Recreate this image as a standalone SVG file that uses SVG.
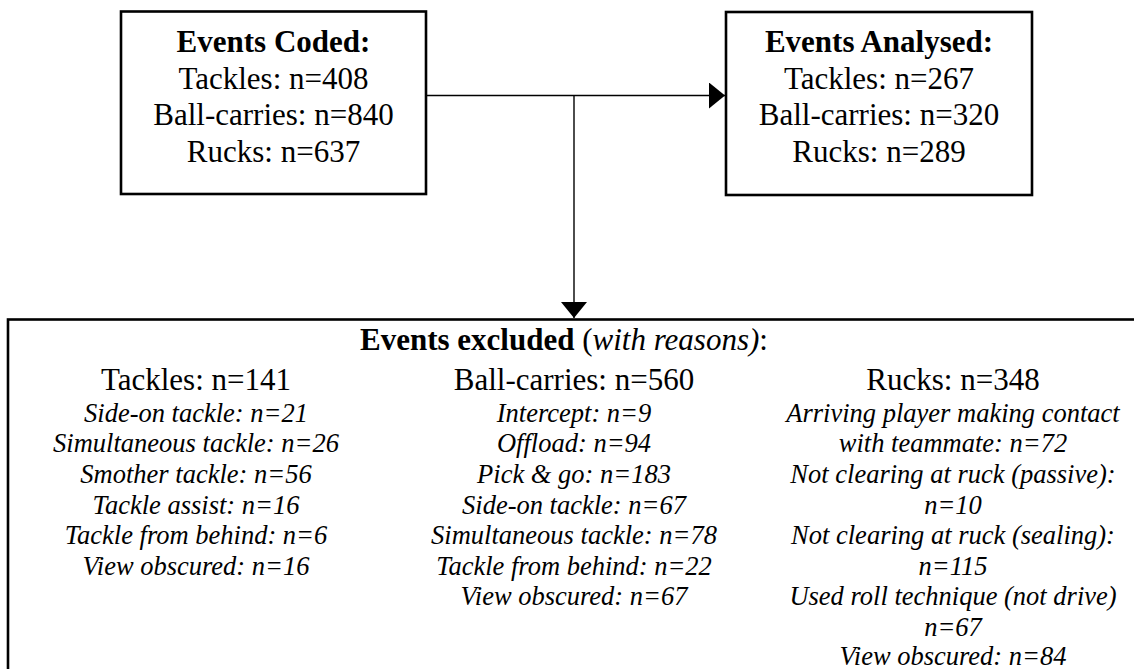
<svg xmlns="http://www.w3.org/2000/svg" width="1134" height="669" viewBox="0 0 1134 669">
<style>
.box{fill:#fff;stroke:#000;stroke-width:2.6}
.t{font-family:"Liberation Serif","Times New Roman",serif;fill:#000;text-anchor:middle}
.h{font-size:31px}
.b{font-weight:bold}
.i{font-size:26.5px;font-style:italic}
.conn{stroke:#000;stroke-width:1.4;fill:none}
</style>
<defs>
<marker id="arr" viewBox="0 0 16 26" refX="16" refY="13" markerWidth="16" markerHeight="26" markerUnits="userSpaceOnUse" orient="auto">
<path d="M0,0 L16,13 L0,26 Z" fill="#000"/>
</marker>
</defs>
<rect width="1134" height="669" fill="#fff"/>
<g id="connectors">
<path class="conn" d="M426,95.5 H725" marker-end="url(#arr)"/>
<path class="conn" d="M574,95.5 V318" marker-end="url(#arr)"/>
</g>
<g id="coded">
<rect class="box" x="121" y="11.5" width="305" height="182.5"/>
<text class="t h b" x="273.5" y="52">Events Coded:</text>
<text class="t h" x="273.5" y="88.5">Tackles: n=408</text>
<text class="t h" x="273.5" y="125">Ball-carries: n=840</text>
<text class="t h" x="273.5" y="161.5">Rucks: n=637</text>
</g>
<g id="analysed">
<rect class="box" x="726" y="12" width="306" height="183"/>
<text class="t h b" x="879" y="52">Events Analysed:</text>
<text class="t h" x="879" y="88.5">Tackles: n=267</text>
<text class="t h" x="879" y="125">Ball-carries: n=320</text>
<text class="t h" x="879" y="161.5">Rucks: n=289</text>
</g>
<g id="excluded">
<rect class="box" x="8" y="319.5" width="1140" height="400" stroke-width="3"/>
<text class="t h" x="564" y="350"><tspan font-weight="bold">Events excluded</tspan> (<tspan font-style="italic">with reasons)</tspan>:</text>
<text class="t h" x="196" y="390">Tackles: n=141</text>
<text class="t i" x="196" y="421.7">Side-on tackle: n=21</text>
<text class="t i" x="196" y="452.3">Simultaneous tackle: n=26</text>
<text class="t i" x="196" y="483">Smother tackle: n=56</text>
<text class="t i" x="196" y="513.6">Tackle assist: n=16</text>
<text class="t i" x="196" y="544.2">Tackle from behind: n=6</text>
<text class="t i" x="196" y="574.8">View obscured: n=16</text>
<text class="t h" x="574" y="390">Ball-carries: n=560</text>
<text class="t i" x="574" y="421.7">Intercept: n=9</text>
<text class="t i" x="574" y="452.3">Offload: n=94</text>
<text class="t i" x="574" y="483">Pick &amp; go: n=183</text>
<text class="t i" x="574" y="513.6">Side-on tackle: n=67</text>
<text class="t i" x="574" y="544.2">Simultaneous tackle: n=78</text>
<text class="t i" x="574" y="574.8">Tackle from behind: n=22</text>
<text class="t i" x="574" y="605.4">View obscured: n=67</text>
<text class="t h" x="953" y="390">Rucks: n=348</text>
<text class="t i" x="953" y="421.7">Arriving player making contact</text>
<text class="t i" x="953" y="452.3">with teammate: n=72</text>
<text class="t i" x="953" y="483">Not clearing at ruck (passive):</text>
<text class="t i" x="953" y="513.6">n=10</text>
<text class="t i" x="953" y="544.2">Not clearing at ruck (sealing):</text>
<text class="t i" x="953" y="574.8">n=115</text>
<text class="t i" x="953" y="605.4">Used roll technique (not drive)</text>
<text class="t i" x="953" y="635.5">n=67</text>
<text class="t i" x="953" y="665">View obscured: n=84</text>
</g>
</svg>
